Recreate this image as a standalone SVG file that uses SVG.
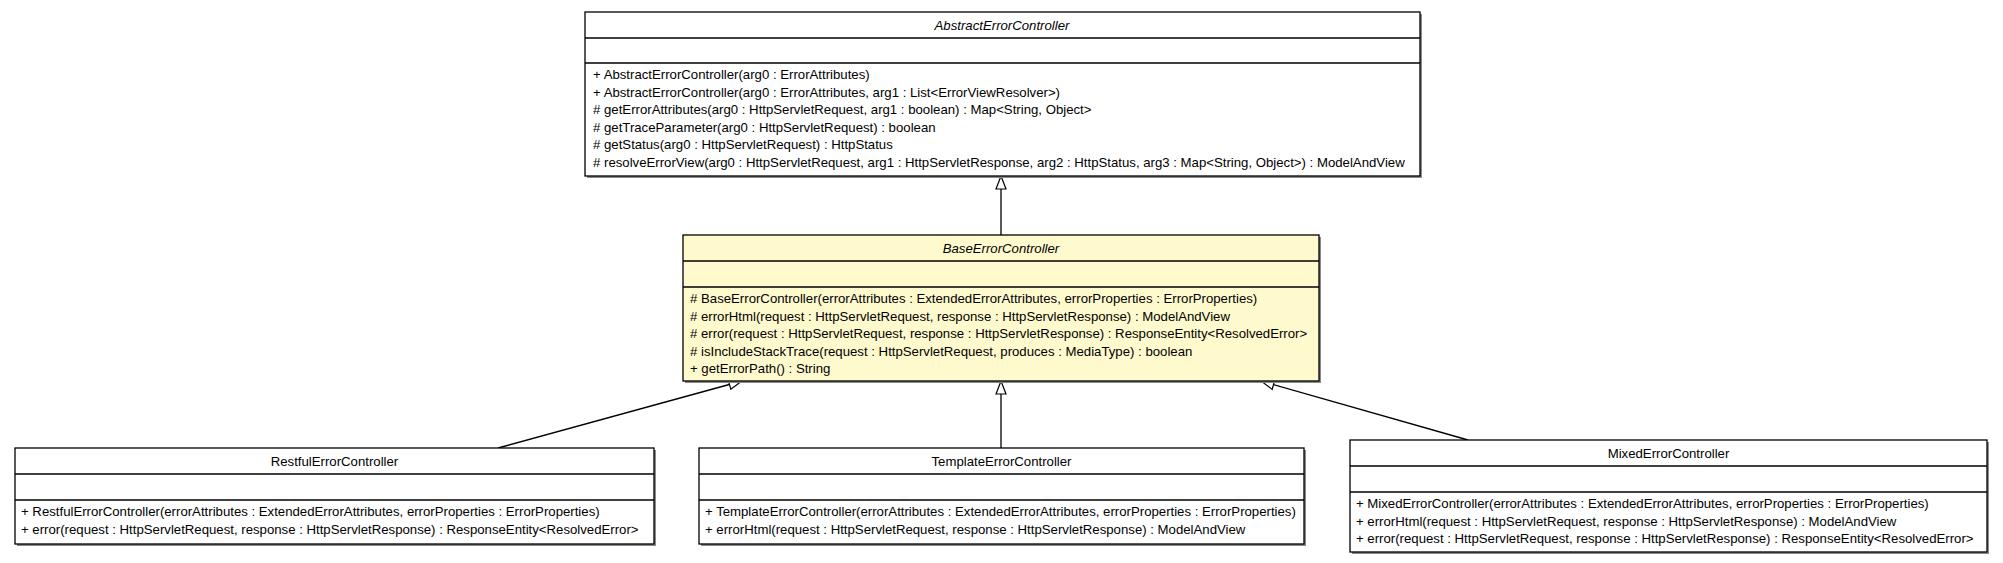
<svg xmlns="http://www.w3.org/2000/svg" width="2003" height="563" viewBox="0 0 2003 563">
<style>
.bg{fill:#ffffff}
.box{fill:#ffffff;stroke:#000000;stroke-width:1.3}
.base{fill:#fffacd;stroke:#000000;stroke-width:1.3}
.shadow{fill:#8a8a8a}
.sep{stroke:#000000;stroke-width:1.3}
.t{font-family:"Liberation Sans",Arial,sans-serif;font-size:13.2px;fill:#000000}
.title{font-family:"Liberation Sans",Arial,sans-serif;font-size:13.2px;fill:#000000;text-anchor:middle}
.abs{font-style:italic}
.edge{stroke:#000000;stroke-width:1.3;fill:none;marker-end:url(#gen)}
</style>
<defs>
<marker id="gen" markerUnits="userSpaceOnUse" markerWidth="16" markerHeight="14" refX="14" refY="6" orient="auto">
<path d="M1,1 L14,6 L1,11 Z" fill="#ffffff" stroke="#000000" stroke-width="1.2"/>
</marker>
</defs>
<rect class="bg" x="0" y="0" width="2003" height="563"/>

<g id="connectors">
<line class="edge" x1="1001" y1="235" x2="1001" y2="176"/>
<line class="edge" x1="1001" y1="448" x2="1001" y2="381"/>
<line class="edge" x1="498" y1="448" x2="742" y2="381"/>
<line class="edge" x1="1468" y1="440" x2="1261" y2="381"/>
</g>

<g id="AbstractErrorController">
<rect class="shadow" x="587" y="14" width="835" height="164"/>
<rect class="box" x="585" y="12" width="835" height="164"/>
<line class="sep" x1="585" y1="38" x2="1420" y2="38"/>
<line class="sep" x1="585" y1="63" x2="1420" y2="63"/>
<text class="title abs" x="1002" y="30">AbstractErrorController</text>
<text class="t" x="593" y="79">+ AbstractErrorController(arg0 : ErrorAttributes)</text>
<text class="t" x="593" y="96.5">+ AbstractErrorController(arg0 : ErrorAttributes, arg1 : List&lt;ErrorViewResolver&gt;)</text>
<text class="t" x="593" y="114"># getErrorAttributes(arg0 : HttpServletRequest, arg1 : boolean) : Map&lt;String, Object&gt;</text>
<text class="t" x="593" y="131.5"># getTraceParameter(arg0 : HttpServletRequest) : boolean</text>
<text class="t" x="593" y="149"># getStatus(arg0 : HttpServletRequest) : HttpStatus</text>
<text class="t" x="593" y="166.5"># resolveErrorView(arg0 : HttpServletRequest, arg1 : HttpServletResponse, arg2 : HttpStatus, arg3 : Map&lt;String, Object&gt;) : ModelAndView</text>
</g>

<g id="BaseErrorController">
<rect class="shadow" x="685" y="237" width="636" height="146"/>
<rect class="base" x="683" y="235" width="636" height="146"/>
<line class="sep" x1="683" y1="261" x2="1319" y2="261"/>
<line class="sep" x1="683" y1="287" x2="1319" y2="287"/>
<text class="title abs" x="1001" y="253">BaseErrorController</text>
<text class="t" x="690" y="303"># BaseErrorController(errorAttributes : ExtendedErrorAttributes, errorProperties : ErrorProperties)</text>
<text class="t" x="690" y="320.5"># errorHtml(request : HttpServletRequest, response : HttpServletResponse) : ModelAndView</text>
<text class="t" x="690" y="338"># error(request : HttpServletRequest, response : HttpServletResponse) : ResponseEntity&lt;ResolvedError&gt;</text>
<text class="t" x="690" y="355.5"># isIncludeStackTrace(request : HttpServletRequest, produces : MediaType) : boolean</text>
<text class="t" x="690" y="373">+ getErrorPath() : String</text>
</g>

<g id="RestfulErrorController">
<rect class="shadow" x="17" y="450" width="639" height="96"/>
<rect class="box" x="15" y="448" width="639" height="96"/>
<line class="sep" x1="15" y1="474" x2="654" y2="474"/>
<line class="sep" x1="15" y1="500" x2="654" y2="500"/>
<text class="title" x="334.5" y="466">RestfulErrorController</text>
<text class="t" x="21" y="516">+ RestfulErrorController(errorAttributes : ExtendedErrorAttributes, errorProperties : ErrorProperties)</text>
<text class="t" x="21" y="533.5">+ error(request : HttpServletRequest, response : HttpServletResponse) : ResponseEntity&lt;ResolvedError&gt;</text>
</g>

<g id="TemplateErrorController">
<rect class="shadow" x="701" y="450" width="605" height="96"/>
<rect class="box" x="699" y="448" width="605" height="96"/>
<line class="sep" x1="699" y1="474" x2="1304" y2="474"/>
<line class="sep" x1="699" y1="500" x2="1304" y2="500"/>
<text class="title" x="1001.5" y="466">TemplateErrorController</text>
<text class="t" x="705" y="516">+ TemplateErrorController(errorAttributes : ExtendedErrorAttributes, errorProperties : ErrorProperties)</text>
<text class="t" x="705" y="533.5">+ errorHtml(request : HttpServletRequest, response : HttpServletResponse) : ModelAndView</text>
</g>

<g id="MixedErrorController">
<rect class="shadow" x="1352" y="442" width="637" height="112"/>
<rect class="box" x="1350" y="440" width="637" height="112"/>
<line class="sep" x1="1350" y1="466" x2="1987" y2="466"/>
<line class="sep" x1="1350" y1="492" x2="1987" y2="492"/>
<text class="title" x="1668.5" y="458">MixedErrorController</text>
<text class="t" x="1356" y="508">+ MixedErrorController(errorAttributes : ExtendedErrorAttributes, errorProperties : ErrorProperties)</text>
<text class="t" x="1356" y="525.5">+ errorHtml(request : HttpServletRequest, response : HttpServletResponse) : ModelAndView</text>
<text class="t" x="1356" y="543">+ error(request : HttpServletRequest, response : HttpServletResponse) : ResponseEntity&lt;ResolvedError&gt;</text>
</g>
</svg>
